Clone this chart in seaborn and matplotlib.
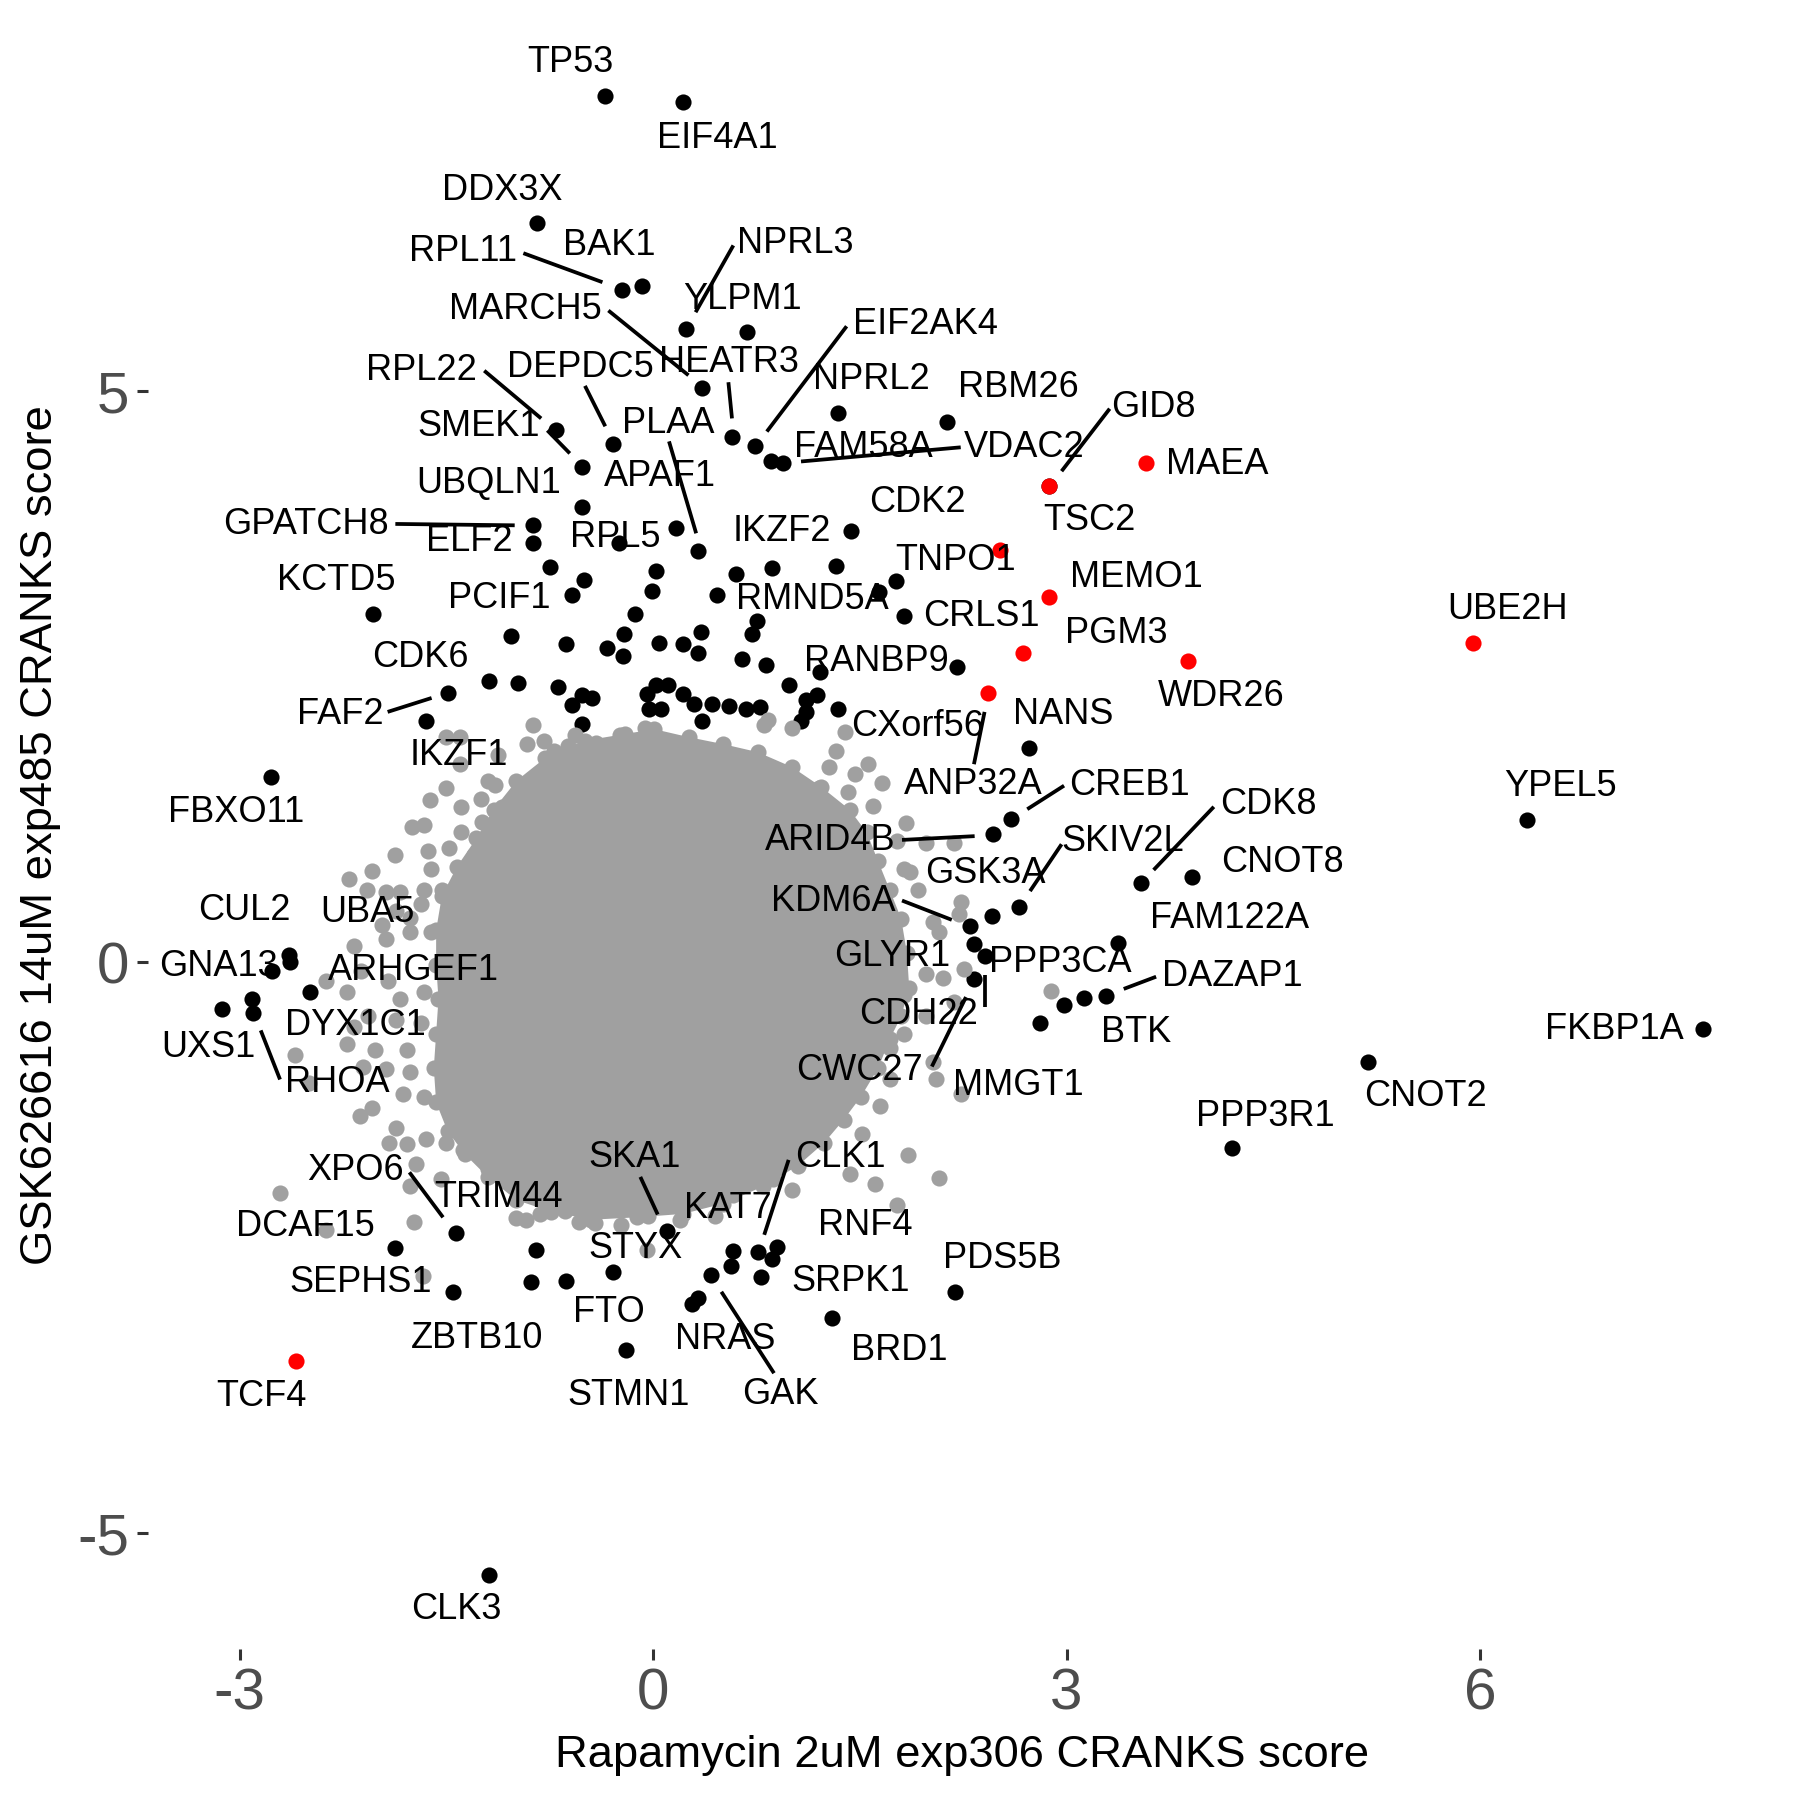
import numpy as np
import pandas as pd
import matplotlib
matplotlib.use("Agg")
import matplotlib.pyplot as plt
import seaborn as sns

# ---------------- data ----------------
# dense core outline of the grey background cloud (each vertex is a grey gene)
core_x = [-0.492, -0.242, 0.008, 0.258, 0.508, 0.758, 1.008, 1.217, 1.425, 1.55, 1.633, 1.717,
          1.80, 1.842, 1.858, 1.80, 1.717, 1.633, 1.508, 1.383, 1.242, 1.05, 0.80, 0.508, 0.217,
          -0.117, -0.45, -0.742, -0.992, -1.20, -1.367, -1.492, -1.575, -1.592, -1.575, -1.558,
          -1.575, -1.575, -1.533, -1.425, -1.283, -1.158, -0.992, -0.783, -0.617]
core_y = [1.942, 1.992, 2.042, 1.972, 1.911, 1.841, 1.710, 1.539, 1.338, 1.137, 0.885, 0.634,
          0.382, 0.080, -0.221, -0.473, -0.674, -0.926, -1.177, -1.378, -1.579, -1.781, -1.962,
          -2.113, -2.203, -2.233, -2.254, -2.183, -2.082, -1.881, -1.680, -1.479, -1.227, -0.926,
          -0.624, -0.322, -0.020, 0.282, 0.584, 0.835, 1.087, 1.338, 1.590, 1.791, 1.891]

# scattered grey genes around the core
grey_x = [-0.871, -1.507, -1.405, -0.794, -0.914, -0.4125, -0.208, -0.058, -0.567, -0.7175, -1.125,
          -1.405, -1.202, -1.151, -1.622, -1.507, -0.96, -1.2525, -1.3925, -1.10, -1.749, -1.66,
          -1.24, -1.3925, -1.634, -1.482, -1.876, -1.303, -2.042, -2.2075, -1.609, -1.5325, -1.66,
          -2.08, -1.94, -1.838, -1.685, -1.863, -1.965, -1.762, -2.169, -1.94, -1.762, -1.609,
          -2.3725, -2.22, -2.118, -1.9275, -1.838, -1.66, -2.169, -2.0675, -1.863, -1.685, -2.60,
          -2.22, -2.017, -1.7875, -2.105, -1.94, -1.762, -2.50, -1.8125, -1.66, -2.042,
          0.831, 0.805, 1.009, 1.391, 1.3275, 1.556, 1.467, 1.658, 1.276, 1.20, 1.417, 1.594, 1.836,
          1.7725, 1.977, 2.18, 1.823, 1.862, 1.925, 2.231, 2.218, 2.0275, 2.078, 2.257, 2.103, 1.977,
          1.823, 2.18, 1.823, 1.977, 1.722, 2.0275, 2.053, 2.231, 1.722, 2.8875,
          -2.131, -1.863, -1.914, -1.7875, -1.6475, -1.507, -1.38, -1.7233, -1.762, -1.5375, -1.2017,
          -1.074, -2.708, -1.736, -2.3725, -1.6725, -0.9975, -0.9217, -0.82, -0.54, -0.425, -0.234,
          -0.039, -0.043, -0.642,
          1.849, 2.078, 1.6075, 1.7725, 1.429, 1.518, 1.645, 1.009, 0.869, 0.576, 0.271, 0.449, 0.194]
grey_y = [2.078, 1.972, 1.972, 1.941, 1.909, 1.925, 2.002, 2.048, 1.987, 1.848, 1.817,
          1.740, 1.587, 1.556, 1.418, 1.525, 1.495, 1.434, 1.356, 1.356, 1.187, 1.202,
          1.233, 1.141, 0.972, 1.003, 0.942, 0.942, 0.803, 0.726, 0.819, 0.634, 0.634,
          0.634, 0.619, 0.619, 0.511, 0.450, 0.327, 0.388, 0.142, 0.204, 0.266, 0.266,
          -0.165, -0.258, -0.072, -0.165, -0.319, -0.258, -0.564, -0.473, -0.503, -0.534, -0.810,
          -0.718, -0.765, -0.765, -0.919, -0.934, -0.964, -1.056, -1.149, -1.179, -1.272,
          2.125, 2.078, 2.048, 2.017, 1.848, 1.740, 1.648, 1.571, 1.710, 1.525, 1.495, 1.371, 1.218,
          1.064, 1.049, 1.049, 0.819, 0.788, 0.634, 0.526, 0.419, 0.357, 0.266, -0.057, -0.134, -0.104,
          -0.288, -0.349, -0.626, -0.473, -0.748, -0.872, -1.026, -1.149, -1.026, -0.247,
          -1.348, -1.449, -1.578, -1.594, -1.547, -1.578, -1.640, -1.763, -1.963, -1.900, -1.809,
          -1.855, -2.024, -2.270, -2.346, -2.746, -2.238, -2.255, -2.208, -2.270, -2.285, -2.301,
          -2.223, -2.515, -2.177,
          -1.686, -1.885, -1.941, -2.123, -1.855, -1.501, -1.256, -1.993, -1.900, -2.039, -2.101, -2.223, -2.255]

# highlighted genes (black)
black_x = [-0.35, 0.217, -0.844, -0.228, -0.081, 0.238, 0.678, 0.358, 0.575, 0.737, 0.852, 0.941,
           1.34, 2.13, 2.875, 1.4375, -0.708, -0.513, -0.292, 0.325, 0.167, -0.513, -0.8725, -0.8725,
           -0.246, 0.864, -2.033, -1.03, -1.486, -1.652, -2.772, 0.462, 1.824, 2.206, 1.34, 2.728,
           2.60, 2.468, 2.658, 2.461, 3.542, 3.912, 3.377, 2.296, 2.328, 2.41, 2.328, 3.288, 3.13,
           2.978, 2.804, 6.341, 7.619, 5.1875, 4.20, -2.644, -2.639, -2.767, -2.912, -2.907, -3.131,
           -2.492, -1.43, -1.871, -1.45, -0.85, -0.883, -0.633, -0.289, -0.195, 0.0975, -1.193,
           0.582, 0.76, 0.90, 0.862, 0.564, 0.78, 0.419, 0.327, 0.283, 2.1875, 1.2975,
           1.327, 1.76, 0.60, 1.64, 0.755, 0.717, 0.347, 0.22, 0.322, 0.6475, 0.818, 1.208, 0.988,
           1.1875, 1.112, 1.106, 1.073, 0.22, 0.296, 0.429, 0.551, 0.673, 0.775, 0.352, -0.75, 0.021,
           -0.501, -0.589, -0.012, -0.132, -0.2125, -0.633, -0.336, -0.221, 0.039, -1.193, -0.984,
           -0.692, -0.513, -0.442, -0.589, -0.513, -0.042, 0.021, 0.11, -0.03, 0.059]
black_y = [7.59, 7.53, 6.47, 5.89, 5.92, 5.55, 5.52, 5.03, 4.60, 4.52, 4.39, 4.37,
           4.81, 4.73, 4.175, 3.78, 4.66, 4.34, 4.54, 3.60, 3.80, 3.99, 3.83, 3.67,
           3.67, 3.45, 3.05, 2.86, 2.36, 2.11, 1.62, 3.22, 3.03, 2.585, 2.22, 1.88,
           1.255, 1.12, 0.487, 0.41, 0.694, 0.747, 0.167, 0.317, 0.157, 0.055, -0.15, -0.295, -0.313,
           -0.375, -0.534, 1.247, -0.58, -0.873, -1.63, 0.065, 0.004, -0.073, -0.319, -0.443, -0.412,
           -0.258, -2.368, -2.50, -2.884, -2.515, -2.80, -2.787, -2.716, -3.397, -2.353, -5.365,
           -2.531, -2.54, -2.494, -2.599, -2.661, -2.755, -2.74, -2.937, -2.99, -2.884, -3.116,
           3.47, 3.34, 3.40, 3.24, 2.985, 2.877, 2.89, 2.785, 2.708, 2.656, 2.608, 2.54, 2.43,
           2.34, 2.294, 2.195, 2.116, 2.354, 2.264, 2.264, 2.248, 2.217, 2.232, 2.116, 3.46, 3.43,
           3.345, 3.216, 3.256, 3.046, 2.877, 2.787, 2.755, 2.686, 2.80, 2.46, 2.445,
           2.407, 2.34, 2.315, 2.256, 2.088, 2.354, 2.43, 2.43, 2.217, 2.217]

# highlighted genes (red)
red_x = [2.875, 3.575, 2.517, 2.875, 2.683, 3.883, 5.95, 2.43, -2.591]
red_y = [4.175, 4.376, 3.612, 3.199, 2.706, 2.636, 2.797, 2.357, -3.493]

# gene labels (text and where the repelled label sits)
label_text = ["TP53", "EIF4A1", "DDX3X", "RPL11", "BAK1", "NPRL3", "YLPM1", "MARCH5", "HEATR3",
              "EIF2AK4", "NPRL2", "RBM26", "FAM58A", "VDAC2", "GID8", "MAEA", "TSC2", "RPL22",
              "DEPDC5", "SMEK1", "PLAA", "APAF1", "UBQLN1", "GPATCH8", "ELF2", "RPL5", "CDK2",
              "IKZF2", "TNPO1", "RMND5A", "KCTD5", "PCIF1", "MEMO1", "CRLS1", "PGM3", "UBE2H",
              "RANBP9", "WDR26", "CDK6", "FAF2", "IKZF1", "CXorf56", "NANS", "ANP32A", "CREB1",
              "FBXO11", "YPEL5", "CDK8", "ARID4B", "SKIV2L", "CNOT8", "GSK3A", "KDM6A", "UBA5",
              "CUL2", "FAM122A", "GLYR1", "PPP3CA", "GNA13", "ARHGEF1", "DAZAP1", "CDH22",
              "DYX1C1", "BTK", "FKBP1A", "UXS1", "CWC27", "RHOA", "MMGT1", "CNOT2", "PPP3R1",
              "CLK1", "SKA1", "XPO6", "TRIM44", "KAT7", "DCAF15", "RNF4", "STYX", "PDS5B",
              "SEPHS1", "SRPK1", "FTO", "ZBTB10", "NRAS", "BRD1", "GAK", "STMN1", "TCF4", "CLK3"]
label_x = [-0.60, 0.467, -1.092, -1.383, -0.317, 1.033, 0.65, -0.925, 0.55,
           1.975, 1.583, 2.65, 1.525, 2.692, 3.633, 4.092, 3.167, -1.683,
           -0.525, -1.267, 0.108, 0.05, -1.192, -2.517, -1.333, -0.275, 1.917,
           0.933, 2.192, 1.158, -2.30, -1.117, 3.508, 2.383, 3.358, 6.20,
           1.617, 4.125, -1.692, -2.267, -1.408, 1.917, 2.975, 2.325, 3.458,
           -3.025, 6.583, 4.467, 1.283, 3.408, 4.567, 2.408, 1.308, -2.075,
           -2.967, 4.183, 1.733, 2.958, -3.158, -1.742, 4.20, 1.925,
           -2.158, 3.508, 6.975, -3.225, 1.50, -2.292, 2.65, 5.608, 4.442,
           1.358, -0.133, -2.158, -1.125, 0.542, -2.525, 1.542, -0.125, 2.533,
           -2.125, 1.433, -0.325, -1.275, 0.525, 1.783, 0.925, -0.175, -2.842, -1.425]
label_y = [7.877, 7.213, 6.761, 6.227, 6.278, 6.298, 5.805, 5.714, 5.252,
           5.584, 5.101, 5.03, 4.507, 4.507, 4.859, 4.356, 3.873, 5.181,
           5.211, 4.688, 4.718, 4.256, 4.195, 3.833, 3.682, 3.722, 4.024,
           3.773, 3.521, 3.179, 3.34, 3.189, 3.37, 3.028, 2.877, 3.089,
           2.636, 2.324, 2.666, 2.173, 1.811, 2.062, 2.173, 1.559, 1.549,
           1.308, 1.539, 1.378, 1.066, 1.056, 0.875, 0.775, 0.533, 0.433,
           0.453, 0.382, 0.05, 0.0, -0.04, -0.07, -0.121, -0.453,
           -0.553, -0.614, -0.584, -0.744, -0.946, -1.056, -1.076, -1.177, -1.348,
           -1.71, -1.71, -1.821, -2.062, -2.153, -2.314, -2.304, -2.505, -2.596,
           -2.807, -2.797, -3.068, -3.29, -3.30, -3.40, -3.783, -3.793, -3.803, -5.664]

# leader segments (label end -> point end)
seg_x0 = [-0.942, 0.582, -0.325, 0.546, 1.404, 2.232, 3.313, -1.226, -0.495, -0.768, 0.115,
          -1.871, -1.927, 2.405, 2.982, 4.069, 1.806, 2.964, 1.806, 3.65, 2.41, 2.0225,
          -2.848, 0.983, -0.093, -1.769, 0.495]
seg_y0 = [6.21, 6.278, 5.708, 5.08, 5.57, 4.51, 4.848, 5.181, 5.048, 4.658, 4.562,
          3.839, 2.193, 2.193, 1.547, 1.362, 1.072, 1.034, 0.541, -0.126, -0.114, -0.9125,
          -0.596, -1.73, -1.879, -1.839, -2.885]
seg_x1 = [-0.368, 0.308, 0.256, 0.572, 0.825, 1.073, 2.964, -0.813, -0.3475, -0.605, 0.312,
          -1.005, -1.608, 2.328, 2.715, 3.632, 2.333, 2.735, 2.167, 3.415, 2.41, 2.27,
          -2.708, 0.806, 0.033, -1.525, 0.877]
seg_y1 = [5.956, 5.693, 5.141, 4.763, 4.648, 4.386, 4.301, 4.763, 4.694, 4.457, 3.757,
          3.827, 2.315, 1.735, 1.341, 0.809, 1.105, 0.624, 0.372, -0.233, -0.387, -0.304,
          -1.026, -2.386, -2.208, -2.233, -3.598]

x_ticks = [-3, 0, 3, 6]
y_ticks = [-5, 0, 5]
x_title = "Rapamycin 2uM exp306 CRANKS score"
y_title = "GSK626616 14uM exp485 CRANKS score"

# ---------------- plotting ----------------
sns.set_theme(style="ticks")
plt.rcParams['font.family'] = ['Liberation Sans', 'DejaVu Sans']

GREY = "#A0A0A0"
fig = plt.figure(figsize=(18, 18), dpi=100)
ax = fig.add_axes([0.082, 0.0839, 0.9053, 0.9041])

df_black = pd.DataFrame({"x": black_x, "y": black_y})
df_grey = pd.DataFrame({"x": grey_x + core_x, "y": grey_y + core_y})
df_red = pd.DataFrame({"x": red_x, "y": red_y})

pt_size = 135
sns.scatterplot(data=df_black, x="x", y="y", color="black", s=pt_size, linewidth=0, ax=ax, zorder=2)
ax.fill(core_x, core_y, color=GREY, linewidth=0, zorder=3)
sns.scatterplot(data=df_grey, x="x", y="y", color=GREY, s=pt_size, linewidth=0, ax=ax, zorder=3)
sns.scatterplot(data=df_red, x="x", y="y", color="red", s=pt_size, linewidth=0, ax=ax, zorder=4)

for x0, y0, x1, y1 in zip(seg_x0, seg_y0, seg_x1, seg_y1):
    ax.plot([x0, x1], [y0, y1], color="black", linewidth=2.7, solid_capstyle="butt", zorder=5)

for t, lx, ly in zip(label_text, label_x, label_y):
    ax.text(lx, ly, t, fontsize=26, color="black", ha="center", va="center", zorder=6)

ax.set_xlim(-3.669, 8.157)
ax.set_ylim(-6.013, 8.238)
ax.set_xticks(x_ticks)
ax.set_yticks(y_ticks)
ax.set_xticklabels([str(v) for v in x_ticks])
ax.set_yticklabels([str(v) for v in y_ticks])
ax.tick_params(axis="both", length=8, width=2.2, color="#333333", labelcolor="#4D4D4D",
               labelsize=42, pad=5)
for s in ax.spines.values():
    s.set_visible(False)
ax.grid(False)
ax.set_xlabel(x_title, fontsize=32.7, color="black", labelpad=10)
ax.set_ylabel(y_title, fontsize=32.7, color="black", labelpad=12)

fig.savefig("out.png", dpi=100, facecolor="white")
